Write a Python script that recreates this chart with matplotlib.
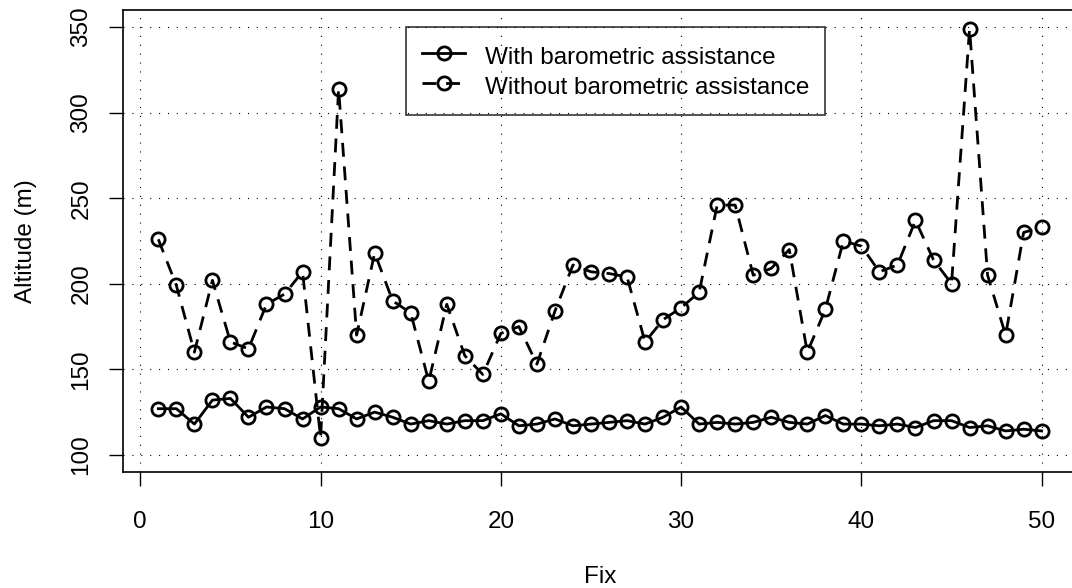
import matplotlib
matplotlib.use("Agg")
import matplotlib.pyplot as plt

# altitude per fix
fix = list(range(1, 51))
with_baro = [127, 127, 118, 132, 133, 122, 128, 127, 121, 128,
             127, 121, 125, 122, 118, 120, 118, 120, 120, 124,
             117, 118, 121, 117, 118, 119, 120, 118, 122, 128,
             118, 119, 118, 119, 122, 119, 118, 123, 118, 118,
             117, 118, 116, 120, 120, 116, 117, 114, 115, 114]
without_baro = [226, 199, 160, 202, 166, 162, 188, 194, 207, 110,
                314, 170, 218, 190, 183, 143, 188, 158, 147, 171,
                175, 153, 184, 211, 207, 206, 204, 166, 179, 186,
                195, 246, 246, 205, 209, 220, 160, 185, 225, 222,
                207, 211, 237, 214, 200, 349, 205, 170, 230, 233]
labels = ["With barometric assistance", "Without barometric assistance"]

plt.rcParams['font.family'] = ['Liberation Sans', 'DejaVu Sans']
fs = 17.5

fig = plt.figure(figsize=(10.72, 5.88), dpi=100)
W, H = 1072, 588
ax = fig.add_axes([123 / W, 1 - 472 / H, (1077 - 123) / W, (472 - 10) / H])

mk = dict(marker='o', markersize=9.5, markerfacecolor='none',
          markeredgecolor='black', markeredgewidth=2, color='black', linewidth=2)
ax.plot(fix, with_baro, linestyle='-', label=labels[0], **mk)
ax.plot(fix, without_baro, linestyle=(0, (5, 3.5)), label=labels[1], **mk)

ax.set_xlim(-0.96, 51.96)
ax.set_ylim(90, 360)
ax.set_xticks([0, 10, 20, 30, 40, 50])
ax.set_yticks([100, 150, 200, 250, 300, 350])
ax.grid(True, color='black', linewidth=0.8, linestyle=(0, (1, 7)))
ax.set_axisbelow(True)

ax.tick_params(direction='out', length=10, width=1, labelsize=fs)
ax.tick_params(axis='x', pad=18)
ax.tick_params(axis='y', pad=12)
for lab in ax.get_yticklabels():
    lab.set_rotation(90)
    lab.set_va('center')
for s in ax.spines.values():
    s.set_linewidth(1.2)

ax.set_xlabel("Fix", fontsize=fs, labelpad=24)
ax.set_ylabel("Altitude (m)", fontsize=fs, labelpad=24)

leg = ax.legend(loc='upper left', bbox_to_anchor=(406 / W, 1 - 27 / H),
                bbox_transform=fig.transFigure, borderaxespad=0,
                fontsize=fs, fancybox=False, handlelength=1.77,
                handleheight=1.23, handletextpad=0.8, borderpad=0.66,
                labelspacing=0.17)
leg.get_frame().set_facecolor('none')
leg.get_frame().set_edgecolor('black')
leg.get_frame().set_linewidth(1.2)

fig.savefig("out.png", dpi=100)
